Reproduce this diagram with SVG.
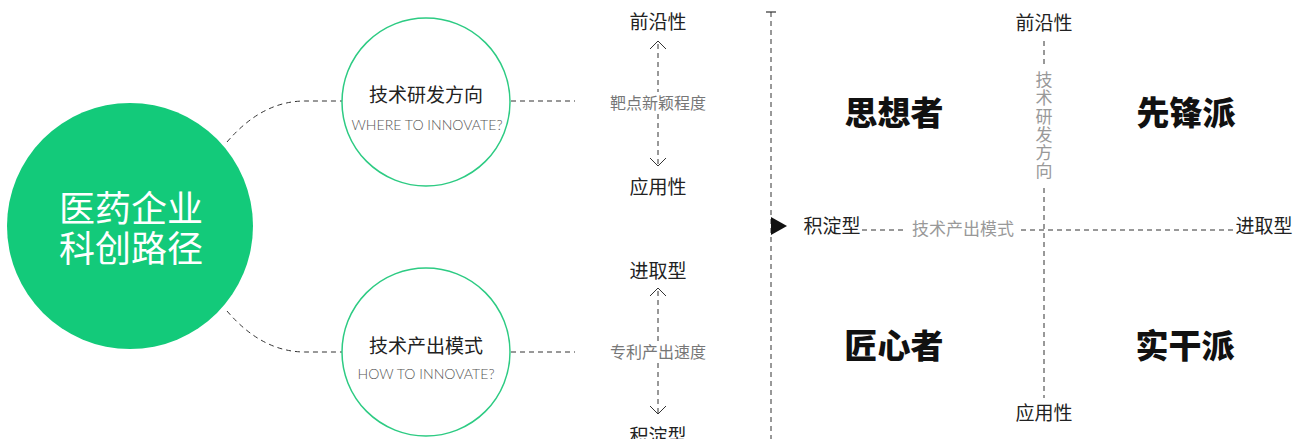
<svg xmlns="http://www.w3.org/2000/svg" width="1294" height="439" viewBox="0 0 1294 439">
<style>
.dash{fill:none;stroke:#333;stroke-width:1;stroke-dasharray:5 4}
.cn{font-family:"Noto Sans CJK SC","Noto Sans",sans-serif}
.lbl{font-size:19px;fill:#222;text-anchor:middle}
.sub{font-size:16px;fill:#777;text-anchor:middle}
.gray{font-size:17px;fill:#999}
.quad{font-size:33px;font-weight:900;fill:#111;text-anchor:middle}
.en{font-family:Lato,"Open Sans",sans-serif;font-weight:300;font-size:13.5px;fill:#555;text-anchor:middle}
.ring{fill:#fff;stroke:#2dcb83;stroke-width:1.5}
.chev{fill:none;stroke:#333;stroke-width:1}
</style>
<rect width="1294" height="439" fill="#fff"/>
<g id="connectors">
<path class="dash" d="M227,142 Q262,101 305,101 L343,101"/>
<path class="dash" d="M227,311 Q262,352 305,352 L343,352"/>
<path class="dash" d="M511,101 L575,101"/>
<path class="dash" d="M511,352 L575,352"/>
<path class="dash" d="M658,44 L658,92"/>
<path class="dash" d="M658,114 L658,164"/>
<path class="chev" d="M650,49 L658,41 L666,49"/>
<path class="chev" d="M650,158 L658,166 L666,158"/>
<path class="dash" d="M658,291 L658,341"/>
<path class="dash" d="M658,363 L658,413"/>
<path class="chev" d="M650,296 L658,288 L666,296"/>
<path class="chev" d="M650,406 L658,414 L666,406"/>
<path d="M766,12 L776,12" stroke="#333" stroke-width="1.2"/>
<path class="dash" d="M771,12 L771,439"/>
<path d="M771,217 L787,226 L771,235 Z" fill="#111"/>
<path class="dash" d="M862,230 L906,230"/>
<path class="dash" d="M1021,230 L1233,230"/>
<path class="dash" d="M1044,41 L1044,66"/>
<path class="dash" d="M1044,188 L1044,398"/>
</g>
<g id="main">
<circle cx="130" cy="226" r="123" fill="#13ca7a"/>
<text class="cn" font-size="36" fill="#fff" text-anchor="middle"><tspan x="131" y="222">医药企业</tspan><tspan x="131" y="262">科创路径</tspan></text>
</g>
<g id="node-direction">
<circle class="ring" cx="426" cy="102" r="84"/>
<text class="cn lbl" x="426" y="102" font-size="20">技术研发方向</text>
<text class="en" x="427" y="130" textLength="151" lengthAdjust="spacingAndGlyphs">WHERE TO INNOVATE?</text>
</g>
<g id="node-output">
<circle class="ring" cx="426" cy="352" r="84"/>
<text class="cn lbl" x="426" y="353" font-size="20">技术产出模式</text>
<text class="en" x="426" y="379" textLength="137" lengthAdjust="spacingAndGlyphs">HOW TO INNOVATE?</text>
</g>
<g id="scale-direction">
<text class="cn lbl" x="658" y="29" font-size="20">前沿性</text>
<text class="cn sub" x="658" y="109">靶点新颖程度</text>
<text class="cn lbl" x="658" y="194" font-size="20">应用性</text>
</g>
<g id="scale-output">
<text class="cn lbl" x="658" y="278" font-size="20">进取型</text>
<text class="cn sub" x="658" y="358">专利产出速度</text>
<text class="cn lbl" x="658" y="443" font-size="20">积淀型</text>
</g>
<g id="matrix-axes">
<text class="cn lbl" x="1044" y="30" font-size="18">前沿性</text>
<text class="cn lbl" x="1044" y="420" font-size="18">应用性</text>
<text class="cn lbl" x="832" y="233" font-size="18">积淀型</text>
<text class="cn lbl" x="1264" y="233" font-size="18">进取型</text>
<text class="cn gray" x="963" y="235" text-anchor="middle">技术产出模式</text>
<text class="cn gray" x="1044" y="71" style="writing-mode:vertical-rl" letter-spacing="1.3">技术研发方向</text>
</g>
<g id="quadrant-thinker"><text class="cn quad" x="894" y="125">思想者</text></g>
<g id="quadrant-pioneer"><text class="cn quad" x="1186" y="125">先锋派</text></g>
<g id="quadrant-craftsman"><text class="cn quad" x="894" y="358">匠心者</text></g>
<g id="quadrant-doer"><text class="cn quad" x="1185" y="358">实干派</text></g>
</svg>
